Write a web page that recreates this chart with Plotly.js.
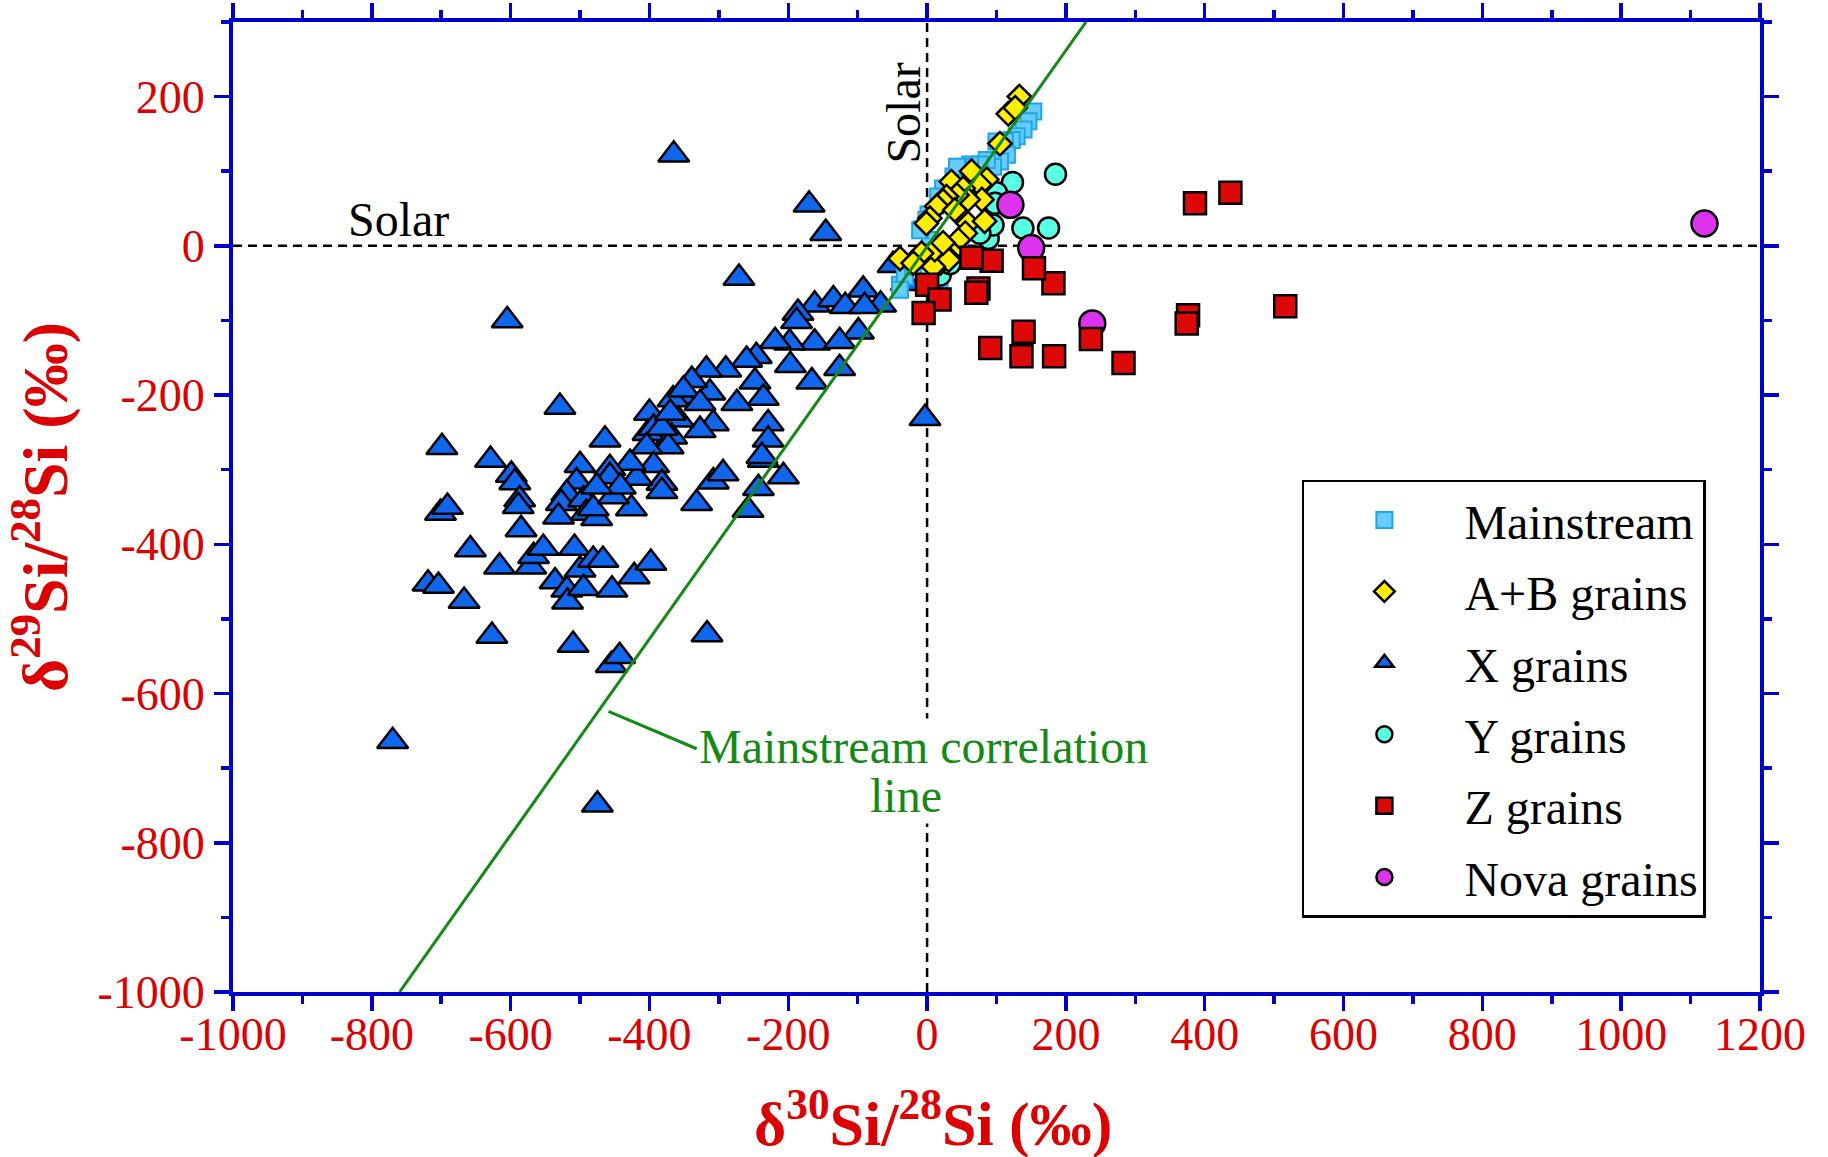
<!DOCTYPE html>
<html>
<head>
<meta charset="utf-8">
<script src="https://cdn.plot.ly/plotly-3.0.1.min.js"></script>
<style>html,body{margin:0;padding:0;background:#fff;}#chart{width:1828px;height:1157px;}</style>
</head>
<body>
<div id="chart"></div>
<script>
// ---- Data ----
const mainstreamX = [153,146,139,129,122,112,100,115,105,95,86,76,62,55,47,38,23,16,2,-8,-1,-39,-32,-20,18,4,-39,-10,43];
const mainstreamY = [180,167,156,147,142,140,140,122,113,106,115,109,109,106,102,93,77,66,42,22,35,-52,-41,-28,-45,8,-59,21,106];

const abX = [133,117,127,105,64,86,76,35,52,79,59,43,28,23,14,4,-1,40,59,83,55,45,35,26,19,31,9,11,-8,-39,-20,23];
const abY = [200,177,185,137,100,89,82,86,77,62,62,68,66,60,53,37,30,48,30,33,17,8,-8,-12,-23,-19,-28,-5,-10,-17,-23,4];

const xGrainX = [-365,-170,-146,-271,-605,-529,-3,-770,-475,
  -92,-67,-49,-30,-162,-135,-118,-90,-186,-188,-99,-162,-126,-198,-219,-246,-260,-197,-126,-290,-318,-166,-248,-236,-274,-313,-308,-229,-229,
  -699,-629,-599,-594,-587,-589,-701,-691,-585,-658,-616,-719,-704,-667,-627,-510,-455,-443,-317,-571,-567,-553,-536,-519,-518,-508,-500,-495,-481,-467,-454,-422,-398,
  -332,-308,-294,-207,-258,-243,-236,-339,-354,-366,-327,-358,-368,-373,-400,-402,-394,-382,-404,-394,-382,-382,-418,-428,-426,-464,-457,-457,-500,-505,-519,-527,-531,-495,-491,-476,-481,-452,-442,-476,-370,-351,-327,-238];
const xGrainY = [122,55,17,-43,-100,-216,-231,-664,-749,
  -59,-79,-26,-50,-79,-72,-81,-81,-90,-101,-115,-130,-128,-130,-128,-148,-153,-160,-164,-166,-166,-182,-182,-204,-211,-197,-238,-238,-260,
  -270,-287,-307,-317,-340,-349,-358,-350,-380,-407,-430,-453,-456,-476,-523,-535,-562,-550,-521,-430,-416,-405,-450,-461,-477,-405,-434,-459,-421,-421,-461,-443,-425,
  -345,-316,-305,-309,-354,-325,-287,-180,-202,-206,-247,-233,-256,-269,-224,-251,-244,-244,-269,-294,-318,-329,-311,-291,-352,-260,-298,-309,-294,-316,-332,-345,-363,-340,-358,-365,-352,-336,-323,-323,-224,-193,-211,-282];

const yGrainX = [185,123,100,98,138,175,88,95,19,76,33];
const yGrainY = [96,85,71,57,24,24,10,28,-39,17,-24];

const zGrainX = [386,437,516,376,374,283,236,183,136,139,182,154,93,64,0,18,74,71,-5,91];
const zGrainY = [57,71,-81,-93,-104,-157,-125,-148,-148,-115,-50,-30,-20,-16,-52,-72,-57,-63,-90,-137];

const novaX = [120,150,238,1120];
const novaY = [55,-3,-104,30];

const corrLineX = [-760, 229];
const corrLineY = [-1000, 300];

const xTickVals = [-1000,-800,-600,-400,-200,0,200,400,600,800,1000,1200];
const xTickText = ['-1000','-800','-600','-400','-200','0','200','400','600','800','1000','1200'];
const yTickVals = [-1000,-800,-600,-400,-200,0,200];
const yTickText = ['-1000','-800','-600','-400','-200','0','200'];

// ---- Styles ----
const SERIF = 'Liberation Serif, Times New Roman, serif';
const AXIS_BLUE = '#0000CC';
const LABEL_RED = '#DD0000';
const GREEN = '#138A13';

const traces = [
  {x: xGrainX, y: xGrainY, name: 'X grains', legendrank: 3, legendgroup: 'g3',
   mode: 'markers', type: 'scatter',
   marker: {symbol: 'triangle-up', size: 27, color: '#1166EE', line: {color: '#000', width: 2.5}}},
  {x: mainstreamX, y: mainstreamY, name: 'Mainstream', legendrank: 1, legendgroup: 'g1',
   mode: 'markers', type: 'scatter',
   marker: {symbol: 'square', size: 16, color: '#66CCFF', line: {color: '#1FA6E6', width: 2}}},
  {x: yGrainX, y: yGrainY, name: 'Y grains', legendrank: 4, legendgroup: 'g4',
   mode: 'markers', type: 'scatter',
   marker: {symbol: 'circle', size: 21, color: '#58FFE2', line: {color: '#000', width: 2.5}}},
  {x: abX, y: abY, name: 'A+B grains', legendrank: 2, legendgroup: 'g2',
   mode: 'markers', type: 'scatter',
   marker: {symbol: 'diamond', size: 18, color: '#FFEE00', line: {color: '#000', width: 2.5}}},
  {x: novaX, y: novaY, name: 'Nova grains', legendrank: 6, legendgroup: 'g6',
   mode: 'markers', type: 'scatter',
   marker: {symbol: 'circle', size: 26, color: '#DD33EE', line: {color: '#000', width: 2.5}}},
  {x: zGrainX, y: zGrainY, name: 'Z grains', legendrank: 5, legendgroup: 'g5',
   mode: 'markers', type: 'scatter',
   marker: {symbol: 'square', size: 22, color: '#DD0808', line: {color: '#000', width: 2.5}}},
  {x: corrLineX, y: corrLineY, name: 'Mainstream correlation line', showlegend: false,
   mode: 'lines', type: 'scatter', line: {color: GREEN, width: 3}, hoverinfo: 'skip'}
];

const axisCommon = {
  showline: true, linecolor: AXIS_BLUE, linewidth: 4, mirror: 'ticks',
  ticks: 'outside', ticklen: 15, tickwidth: 3.5, tickcolor: AXIS_BLUE,
  tickmode: 'array',
  tickfont: {family: SERIF, size: 46, color: LABEL_RED},
  showgrid: false, zeroline: false, automargin: false,
  minor: {tickmode: 'linear', tick0: -1000, dtick: 100, ticks: 'outside', ticklen: 8, tickwidth: 3.5, tickcolor: AXIS_BLUE, showgrid: false}
};

const layout = {
  width: 1828, height: 1157,
  margin: {l: 233, r: 68, t: 22, b: 165, pad: 0},
  paper_bgcolor: '#fff', plot_bgcolor: '#fff',
  showlegend: true,
  xaxis: Object.assign({}, axisCommon, {
    range: [-1000, 1200], tickvals: xTickVals, ticktext: xTickText,
    ticklabelstandoff: -16
  }),
  yaxis: Object.assign({}, axisCommon, {
    range: [-1000, 300], tickvals: yTickVals, ticktext: yTickText,
    title: {text: 'δ<sup>29</sup>Si/<sup>28</sup>Si (‰)',
            font: {family: SERIF, size: 64, color: LABEL_RED, weight: 'bold'}, standoff: 16}
  }),
  legend: {
    x: 0.700, y: 0.528, xanchor: 'left', yanchor: 'top',
    bgcolor: '#fff', bordercolor: '#000', borderwidth: 2.5,
    font: {family: SERIF, size: 48, color: '#000'},
    itemwidth: 150, traceorder: 'grouped', tracegroupgap: 6, itemclick: false,
    entrywidth: 262, entrywidthmode: 'pixels'
  },
  shapes: [
    {type: 'line', xref: 'x', yref: 'y', x0: -1000, x1: 1200, y0: 0, y1: 0, layer: 'below',
     line: {color: '#000', width: 2.5, dash: '9px,6px'}},
    {type: 'line', xref: 'x', yref: 'y', x0: 0, x1: 0, y0: -1000, y1: 300, layer: 'below',
     line: {color: '#000', width: 2.5, dash: '9px,6px'}},
    {type: 'line', xref: 'x', yref: 'y', x0: -459, y0: -624, x1: -332, y1: -674, layer: 'above',
     line: {color: GREEN, width: 3}}
  ],
  annotations: [
    {text: 'δ<sup>30</sup>Si/<sup>28</sup>Si (‰)', x: 0.4584, y: -0.131, xref: 'paper', yref: 'paper',
     xanchor: 'center', yanchor: 'middle', showarrow: false,
     font: {family: SERIF, size: 62, color: LABEL_RED, weight: 'bold'}},
    {text: 'Solar', x: -762, y: 0, xref: 'x', yref: 'y', xanchor: 'center', yanchor: 'bottom', yshift: -2,
     showarrow: false, font: {family: SERIF, size: 48, color: '#000'}},
    {text: 'Solar', x: 0, y: 178, xref: 'x', yref: 'y', xanchor: 'right', yanchor: 'middle', textangle: -90, xshift: 4,
     showarrow: false, font: {family: SERIF, size: 48, color: '#000'}},
    {text: 'Mainstream correlation', x: -5, y: -671, xref: 'x', yref: 'y', xanchor: 'center', yanchor: 'middle',
     showarrow: false, bgcolor: '#fff', font: {family: SERIF, size: 48, color: GREEN}},
    {text: 'line', x: -30, y: -737, xref: 'x', yref: 'y', xanchor: 'center', yanchor: 'middle',
     showarrow: false, bgcolor: '#fff', font: {family: SERIF, size: 48, color: GREEN}}
  ]
};

Plotly.newPlot('chart', traces, layout, {displayModeBar: false, responsive: false, staticPlot: true});
</script>
</body>
</html>
